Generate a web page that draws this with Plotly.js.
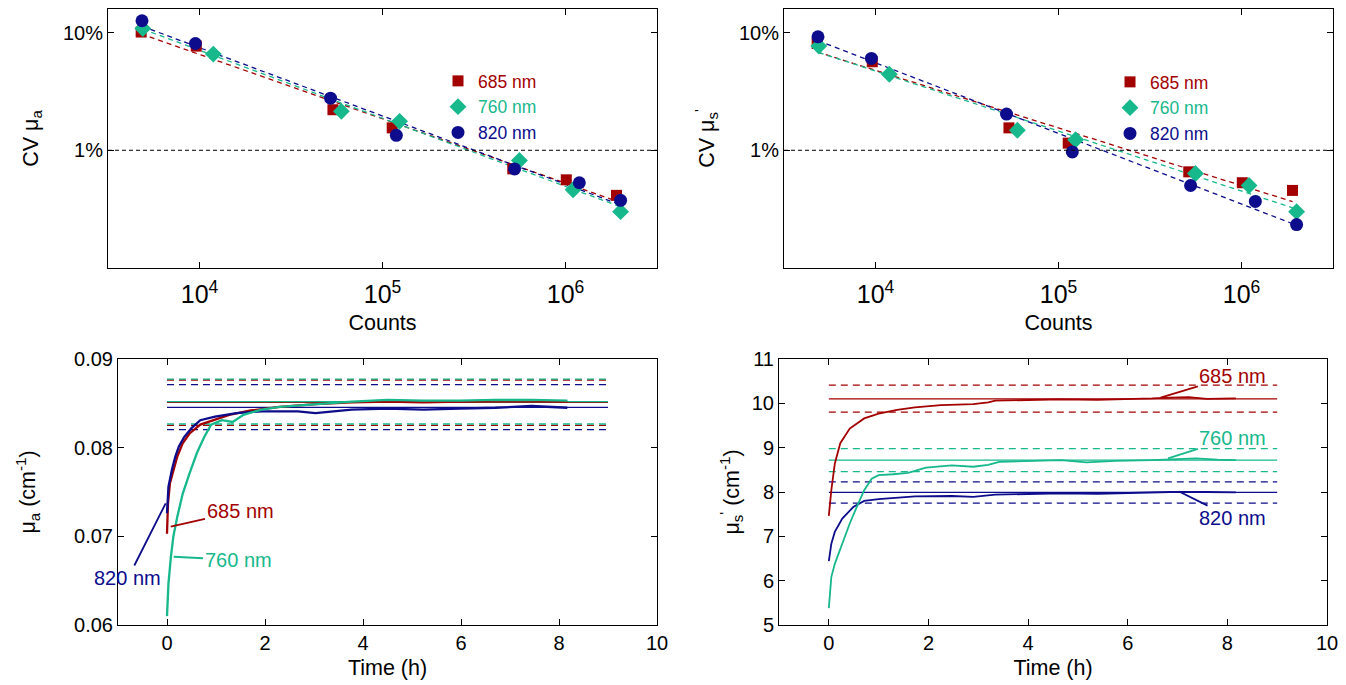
<!DOCTYPE html>
<html><head><meta charset="utf-8">
<script src="https://cdn.plot.ly/plotly-3.0.1.min.js"></script>
<style>html,body{margin:0;padding:0;background:#fff}#chart{width:1346px;height:685px}</style>
</head><body><div id="chart"></div>
<script>
// ---------- data ----------
const wavelengths = ['685 nm', '760 nm', '820 nm'];
const colors = ['#a30000', '#17b88c', '#0c0c8c'];
const symbols = ['square', 'diamond', 'circle'];

// photon counts per measurement (x of top panels)
const counts685 = [4800, 9600, 53600, 113000, 515000, 1010000, 1900000];
const counts760 = [4900, 11900, 59600, 124000, 560000, 1100000, 2000000];
const counts820 = [4850, 9500, 52000, 119000, 527000, 1190000, 2000000];

// CV of mu_a (%)
const cvMua685 = [10.1, 7.67, 2.21, 1.55, 0.695, 0.561, 0.414];
const cvMua760 = [10.8, 6.56, 2.14, 1.76, 0.818, 0.462, 0.301];
const cvMua820 = [12.6, 8.07, 2.77, 1.34, 0.695, 0.530, 0.376];

// CV of mu_s' (%)
const cvMus685 = [8.07, 5.65, 1.55, 1.15, 0.656, 0.530, 0.456];
const cvMus760 = [7.67, 4.42, 1.48, 1.23, 0.635, 0.502, 0.301];
const cvMus820 = [9.19, 6.03, 2.03, 0.968, 0.502, 0.368, 0.234];

const cvReference = 1; // 1 % line

// mu_a time courses (h, cm^-1)
const tMua685 = [0, 0.02, 0.06, 0.13, 0.21, 0.32, 0.46, 0.68, 0.98, 1.27, 1.71, 2.30, 3.03, 3.77, 4.50, 5.23, 5.97, 6.70, 7.44, 8.17];
const mua685  = [0.0703, 0.0737, 0.0760, 0.0775, 0.0790, 0.0805, 0.0816, 0.0826, 0.0832, 0.0837, 0.0842, 0.0846, 0.0849, 0.0851, 0.0852, 0.0851, 0.0852, 0.0853, 0.0853, 0.0852];
const tMua760 = [0, 0.03, 0.08, 0.13, 0.21, 0.32, 0.46, 0.61, 0.76, 0.90, 1.12, 1.34, 1.56, 1.93, 2.30, 3.03, 3.77, 4.50, 5.23, 5.97, 6.70, 7.44, 8.17];
const mua760  = [0.0610, 0.0647, 0.0677, 0.0700, 0.0722, 0.0748, 0.0771, 0.0794, 0.0812, 0.0826, 0.0831, 0.0829, 0.0837, 0.0843, 0.0846, 0.0849, 0.0852, 0.0854, 0.0853, 0.0853, 0.0854, 0.0854, 0.0853];
const tMua820 = [0, 0.03, 0.10, 0.17, 0.24, 0.35, 0.50, 0.68, 0.98, 1.42, 1.93, 2.67, 3.03, 3.77, 4.50, 5.23, 5.97, 6.70, 7.44, 8.17];
const mua820  = [0.0726, 0.0756, 0.0775, 0.0790, 0.0801, 0.0812, 0.0822, 0.0831, 0.0835, 0.0839, 0.0841, 0.0841, 0.0839, 0.0843, 0.0844, 0.0843, 0.0844, 0.0845, 0.0847, 0.0845];

// mu_s' time courses (h, cm^-1)
const tMus685 = [0, 0.05, 0.12, 0.23, 0.42, 0.71, 1.0, 1.37, 1.73, 2.25, 2.9, 3.2, 3.34, 3.93, 4.66, 5.39, 6.12, 6.49, 6.85, 7.22, 7.59, 8.17];
const mus685  = [7.46, 8.04, 8.64, 9.10, 9.43, 9.66, 9.77, 9.85, 9.91, 9.96, 9.98, 10.02, 10.06, 10.08, 10.09, 10.08, 10.09, 10.11, 10.13, 10.14, 10.10, 10.11];
const tMus760 = [0, 0.05, 0.12, 0.27, 0.42, 0.56, 0.71, 0.86, 1.0, 1.29, 1.59, 1.95, 2.47, 2.9, 3.2, 3.42, 3.93, 4.66, 5.17, 5.76, 6.49, 7.0, 7.37, 7.8, 8.17];
const mus760  = [5.38, 6.08, 6.38, 6.83, 7.29, 7.66, 8.04, 8.30, 8.38, 8.40, 8.43, 8.55, 8.60, 8.57, 8.61, 8.68, 8.70, 8.72, 8.67, 8.70, 8.72, 8.75, 8.76, 8.73, 8.72];
const tMus820 = [0, 0.05, 0.12, 0.27, 0.49, 0.71, 1.0, 1.37, 1.73, 2.47, 2.9, 3.34, 3.93, 4.66, 5.39, 6.12, 6.85, 7.59, 8.17];
const mus820  = [6.44, 6.83, 7.10, 7.40, 7.66, 7.80, 7.84, 7.87, 7.90, 7.91, 7.89, 7.94, 7.95, 7.97, 7.96, 7.98, 8.00, 8.00, 7.99];

// steady-state means and tolerance bands (685, 760, 820)
const refLineT = [0, 9];
const muaMean  = [0.08511, 0.08519, 0.08455];
const muaUpper = [0.08763, 0.08774, 0.08711];
const muaLower = [0.08252, 0.08267, 0.08203];
const musMean  = [10.10, 8.72, 7.99];
const musUpper = [10.41, 8.98, 8.23];
const musLower = [9.80, 8.46, 7.75];

// ---------- build ----------
const FONT = 'Liberation Sans, Arial, Helvetica, sans-serif';
const countsAll = [counts685, counts760, counts820];
const cvMuaAll = [cvMua685, cvMua760, cvMua820];
const cvMusAll = [cvMus685, cvMus760, cvMus820];
const tMuaAll = [tMua685, tMua760, tMua820];
const muaAll = [mua685, mua760, mua820];
const tMusAll = [tMus685, tMus760, tMus820];
const musAll = [mus685, mus760, mus820];

function fitLine(xs, ys) {
  const lx = xs.map(Math.log10), ly = ys.map(Math.log10);
  const n = lx.length;
  const mx = lx.reduce((a, b) => a + b, 0) / n, my = ly.reduce((a, b) => a + b, 0) / n;
  let sxy = 0, sxx = 0;
  for (let i = 0; i < n; i++) { sxy += (lx[i] - mx) * (ly[i] - my); sxx += (lx[i] - mx) ** 2; }
  const b = sxy / sxx, a = my - b * mx;
  const x0 = Math.min(...xs), x1 = Math.max(...xs);
  return { x: [x0, x1], y: [Math.pow(10, a + b * Math.log10(x0)), Math.pow(10, a + b * Math.log10(x1))] };
}

const traces = [];
// top panels
[[cvMuaAll, 'x', 'y', 'legend'], [cvMusAll, 'x2', 'y2', 'legend2']].forEach(([cvs, xa, ya, lg]) => {
  for (let i = 0; i < 3; i++) {
    const f = fitLine(countsAll[i], cvs[i]);
    traces.push({ x: f.x, y: f.y, xaxis: xa, yaxis: ya, mode: 'lines', showlegend: false,
      line: { color: colors[i], width: 1.3, dash: '5px,4px' }, hoverinfo: 'skip' });
  }
  for (let i = 0; i < 3; i++) {
    traces.push({ x: countsAll[i], y: cvs[i], xaxis: xa, yaxis: ya, mode: 'markers', legend: lg,
      name: '<span style="color:' + colors[i] + '">' + wavelengths[i] + '</span>',
      marker: { symbol: symbols[i], color: colors[i], size: i === 1 ? 13 : (i === 0 ? 11 : 13) } });
  }
});
// bottom panels
[[muaMean, muaUpper, muaLower, tMuaAll, muaAll, 'x3', 'y3', 2.3],
 [musMean, musUpper, musLower, tMusAll, musAll, 'x4', 'y4', 1.8]].forEach(([mean, up, lo, ts, vs, xa, ya, lw]) => {
  for (let i = 0; i < 3; i++) {
    [[up[i], '7px,5px'], [lo[i], '7px,5px'], [mean[i], 'solid']].forEach(([v, d]) => {
      traces.push({ x: refLineT, y: [v, v], xaxis: xa, yaxis: ya, mode: 'lines', showlegend: false,
        line: { color: colors[i], width: 1.3, dash: d }, hoverinfo: 'skip' });
    });
  }
  [0, 2, 1].forEach(i => {
    traces.push({ x: ts[i], y: vs[i], xaxis: xa, yaxis: ya, mode: 'lines', showlegend: false,
      line: { color: colors[i], width: lw } });
  });
});

const axBase = {
  showline: true, linecolor: '#000', linewidth: 1, mirror: 'ticks', ticks: 'inside', ticklen: 6,
  tickcolor: '#000', showgrid: false, zeroline: false, automargin: false,
  tickfont: { family: FONT, size: 20, color: '#000' }
};
const titleFont = { family: FONT, size: 21.5, color: '#000' };
const logX = (dom) => Object.assign({}, axBase, {
  type: 'log', range: [3.5, 6.5], dtick: 1, exponentformat: 'power', showexponent: 'all', domain: dom,
  ticklabelstandoff: 5,
  title: { text: 'Counts', font: titleFont, standoff: 7 }
});
const logY = (dom, anchor, t) => Object.assign({}, axBase, {
  type: 'log', range: [-1, 1.2], tickvals: [1, 10], ticktext: ['1%', '10%'], domain: dom, anchor: anchor,
  title: { text: t, font: titleFont, standoff: 18 }
});
const timeX = (dom) => Object.assign({}, axBase, {
  range: [-1, 10], dtick: 2, tick0: 0, domain: dom,
  title: { text: 'Time (h)', font: titleFont, standoff: 6 }
});

const W = 1346, H = 685;
const topY = [1 - 268 / H, 1 - 9 / H];
const botY = [1 - 625 / H, 1 - 359 / H];

const ann = (txt, c, xa, ya, x, y, ax, ay) => ({
  text: txt, xref: xa, yref: ya, x: x, y: y, axref: xa, ayref: ya, ax: ax, ay: ay,
  showarrow: true, arrowhead: 0, arrowwidth: 1.8, arrowcolor: c,
  font: { family: FONT, size: 20, color: c }, standoff: 0, startstandoff: 0
});

const legendBase = { xanchor: 'left', yanchor: 'top', bgcolor: 'rgba(0,0,0,0)',
  font: { family: FONT, size: 17.5 }, itemwidth: 30, tracegroupgap: 0 };

const layout = {
  width: W, height: H, margin: { l: 0, r: 0, t: 0, b: 0 },
  paper_bgcolor: '#fff', plot_bgcolor: '#fff', showlegend: true,
  font: { family: FONT, color: '#000' },
  xaxis: logX([108 / W, 657 / W]),
  yaxis: logY(topY, 'x', 'CV μ<sub>a</sub>'),
  xaxis2: Object.assign(logX([784 / W, 1333 / W]), { anchor: 'y2' }),
  yaxis2: logY(topY, 'x2', 'CV μ<sub>s</sub><sup>\'</sup>'),
  xaxis3: Object.assign(timeX([118 / W, 657 / W]), { anchor: 'y3' }),
  yaxis3: Object.assign({}, axBase, { range: [0.06, 0.09], dtick: 0.01, tickformat: '.2f', domain: botY, anchor: 'x3',
    title: { text: 'μ<sub>a</sub> (cm<sup>-1</sup>)', font: titleFont, standoff: 32 } }),
  xaxis4: Object.assign(timeX([779 / W, 1327 / W]), { anchor: 'y4' }),
  yaxis4: Object.assign({}, axBase, { range: [5, 11], dtick: 1, domain: botY, anchor: 'x4',
    title: { text: 'μ<sub>s</sub><sup>\'</sup> (cm<sup>-1</sup>)', font: titleFont, standoff: 6 } }),
  legend: Object.assign({ x: 438 / W, y: 1 - 63 / H }, legendBase),
  legend2: Object.assign({ x: 1110 / W, y: 1 - 64 / H }, legendBase),
  shapes: [
    { type: 'line', xref: 'x domain', yref: 'y', x0: 0, x1: 1, y0: cvReference, y1: cvReference,
      line: { color: '#000', width: 1, dash: '4px,3px' } },
    { type: 'line', xref: 'x2 domain', yref: 'y2', x0: 0, x1: 1, y0: cvReference, y1: cvReference,
      line: { color: '#000', width: 1, dash: '4px,3px' } }
  ],
  annotations: [
    ann('685 nm', colors[0], 'x3', 'y3', 0.076, 0.07109, 1.49, 0.07286),
    ann('760 nm', colors[1], 'x3', 'y3', 0.135, 0.0677, 1.45, 0.06733),
    ann('820 nm', colors[2], 'x3', 'y3', -0.027, 0.07372, -0.796, 0.0653),
    ann('685 nm', colors[0], 'x4', 'y4', 6.66, 10.13, 8.11, 10.62),
    ann('760 nm', colors[1], 'x4', 'y4', 6.81, 8.76, 8.11, 9.22),
    ann('820 nm', colors[2], 'x4', 'y4', 7.03, 8.01, 8.11, 7.41)
  ]
};

Plotly.newPlot('chart', traces, layout, { displayModeBar: false, staticPlot: true });
</script>
</body></html>
